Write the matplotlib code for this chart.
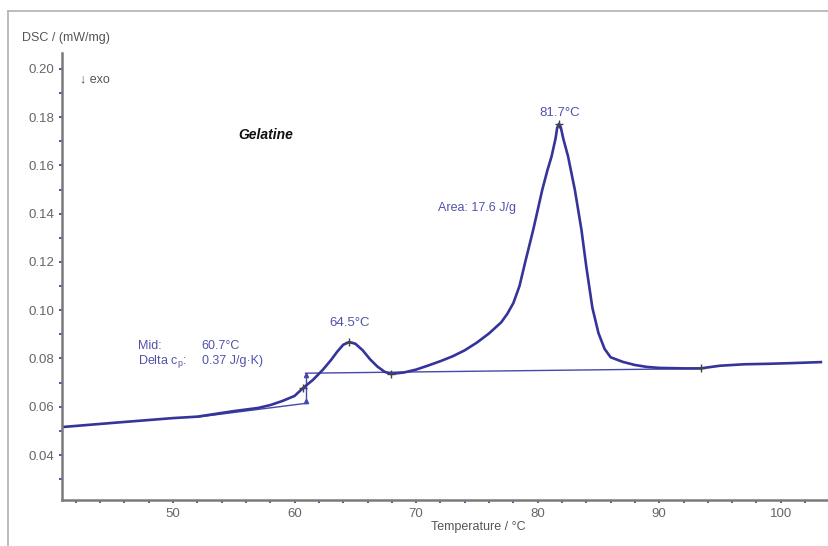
import matplotlib
matplotlib.use("Agg")
import matplotlib.pyplot as plt
from matplotlib.lines import Line2D
from matplotlib.ticker import MultipleLocator, FormatStrFormatter

plt.rcParams['font.family'] = ['Liberation Sans', 'DejaVu Sans']
plt.rcParams['mathtext.fontset'] = 'custom'
plt.rcParams['mathtext.rm'] = 'Liberation Sans'
plt.rcParams['mathtext.it'] = 'Liberation Sans'

# DSC curve
temp = [40.9, 45, 50, 52, 55, 57, 58, 59, 60, 60.7, 61.5, 62.3, 63, 63.5, 64.0,
        64.5, 65.0, 65.6, 66.2, 66.8, 67.4, 67.9, 69, 70, 71, 72, 73, 74, 75, 76,
        77, 77.5, 78, 78.5, 79, 79.63, 80.0, 80.37, 80.8, 81.14, 81.47, 81.6,
        81.75, 81.9, 82.1, 82.5, 83.06, 83.6, 84, 84.5, 85, 85.5, 86, 87, 88, 89,
        90, 92, 93.4, 95, 97, 99, 101, 103.3]
dsc = [0.0516, 0.0533, 0.0553, 0.0559, 0.0582, 0.0595, 0.0607, 0.0624, 0.0645,
       0.0678, 0.0711, 0.0752, 0.0794, 0.0828, 0.0857, 0.0868, 0.0861, 0.0834,
       0.0797, 0.0767, 0.0745, 0.0736, 0.0742, 0.0754, 0.0771, 0.0789, 0.0809,
       0.0834, 0.0866, 0.0904, 0.0950, 0.0985, 0.1030, 0.1100, 0.1205, 0.1333,
       0.1415, 0.1498, 0.1580, 0.1637, 0.1712, 0.1755, 0.1772, 0.1758, 0.1712,
       0.1637, 0.1498, 0.1333, 0.1180, 0.1010, 0.0905, 0.0840, 0.0805, 0.0786,
       0.0773, 0.0765, 0.0761, 0.0759, 0.0759, 0.0770, 0.0776, 0.0778, 0.0781,
       0.0785]

# evaluation lines
base_t = [60.9, 93.4]
base_y = [0.0739, 0.0758]
lower_t = [52, 60.9]
lower_y = [0.0557, 0.0614]
step_t = [60.9, 60.9]
step_y = [0.0614, 0.0739]

# marked points
mark_t = [60.7, 64.5, 67.9, 81.75, 93.4]
mark_y = [0.0678, 0.0868, 0.0736, 0.1772, 0.0759]

curve_col = '#34349a'
text_col = '#5252ac'
tick_col = '#666666'

fig = plt.figure(figsize=(8.29, 5.46), dpi=100)
ax = fig.add_axes([0.0748, 0.0842, 0.9242, 0.8188])

ax.plot(base_t, base_y, color='#4848a8', lw=1.0)
ax.plot(lower_t, lower_y, color='#4848a8', lw=1.0)
ax.plot(step_t, step_y, color='#4848a8', lw=1.0)
ax.plot([60.9], [0.0732], marker='^', ms=3, color='#4848a8')
ax.plot([60.9], [0.0625], marker='^', ms=3, color='#4848a8')
ax.plot(temp, dsc, color=curve_col, lw=1.9, solid_joinstyle='round')
ax.plot(mark_t, mark_y, ls='none', marker='+', ms=6, mew=1.0, color='#444444')

ax.set_xlim(40.86, 103.9)
ax.set_ylim(0.02135, 0.2066)

for s in ['top', 'right']:
    ax.spines[s].set_visible(False)
for s in ['left', 'bottom']:
    ax.spines[s].set_color('#7a7a7a')
    ax.spines[s].set_linewidth(1.8)

ax.xaxis.set_major_locator(MultipleLocator(10))
ax.xaxis.set_minor_locator(MultipleLocator(2))
ax.yaxis.set_major_locator(MultipleLocator(0.02))
ax.yaxis.set_minor_locator(MultipleLocator(0.01))
ax.yaxis.set_major_formatter(FormatStrFormatter('%.2f'))
ax.tick_params(which='both', direction='out', length=2.5, width=1.2,
               color='#3a3aa0', labelsize=9.5, labelcolor=tick_col, pad=3)

fig.text(22 / 829, 1 - 38 / 546, 'DSC / (mW/mg)', fontsize=9, color='#555555',
         va='center', ha='left')
fig.text(478 / 829, 1 - 527 / 546, 'Temperature / \u00b0C', fontsize=9,
         color='#555555', va='center', ha='center')

ax.text(42.3, 0.1955, '\u2193 exo', fontsize=9, color='#555555', va='center')
ax.text(55.4, 0.1725, 'Gelatine', fontsize=10, fontweight='bold',
        fontstyle='italic', color='#111111', va='center')
ax.text(64.5, 0.0945, '64.5\u00b0C', fontsize=9.5, color=text_col,
        ha='center', va='center')
ax.text(81.8, 0.1817, '81.7\u00b0C', fontsize=9.5, color=text_col,
        ha='center', va='center')
ax.text(71.8, 0.1425, 'Area: 17.6 J/g', fontsize=9, color=text_col,
        va='center')
ax.text(47.1, 0.0850, 'Mid:', fontsize=9, color=text_col, va='center')
ax.text(52.3, 0.0850, '60.7\u00b0C', fontsize=9, color=text_col, va='center')
ax.text(47.1, 0.0788, 'Delta c$_\\mathrm{p}$:', fontsize=9, color=text_col,
        va='center')
ax.text(52.4, 0.0788, '0.37 J/g\u00b7K)', fontsize=9, color=text_col,
        va='center')

# outer frame lines
fig.add_artist(Line2D([8 / 829, 1], [1 - 10.5 / 546, 1 - 10.5 / 546],
                      color='#b0b0b0', lw=1.2))
fig.add_artist(Line2D([8.5 / 829, 8.5 / 829], [0, 1 - 10.5 / 546],
                      color='#b0b0b0', lw=1.2))

fig.savefig('out.png', dpi=100)
